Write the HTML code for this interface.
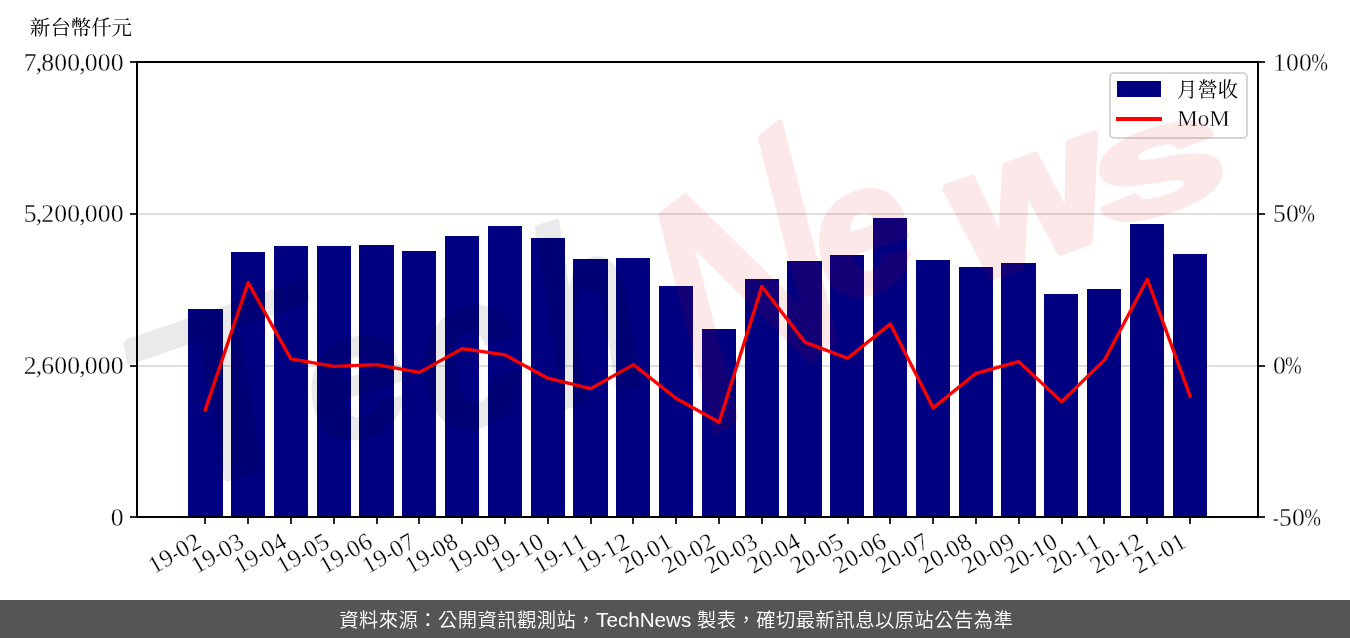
<!DOCTYPE html>
<html lang="zh-Hant">
<head>
<meta charset="utf-8">
<title>月營收 MoM</title>
<style>
html,body{margin:0;padding:0;background:#fff;}
body{width:1350px;height:638px;overflow:hidden;}
svg{display:block;}
.s{font-family:"Liberation Serif", "Noto Serif CJK TC", "Noto Serif CJK SC", serif;font-size:25.7px;fill:#000;stroke:#fff;stroke-width:0.3px;}
.c{font-size:20.4px;font-weight:400;stroke:none;}
.f{font-family:"Liberation Sans", "Noto Sans CJK TC", "Noto Sans CJK SC", sans-serif;font-size:19.3px;letter-spacing:0.48px;fill:#fff;font-weight:350;}
</style>
</head>
<body>
<svg width="1350" height="638" viewBox="0 0 1350 638">
<rect x="0" y="0" width="1350" height="638" fill="#fff"/>
<g stroke="#d3d3d3" stroke-width="1.7">
<line x1="137" y1="366.00" x2="1258" y2="366.00"/>
<line x1="137" y1="214.00" x2="1258" y2="214.00"/>
</g>
<g fill="#000080" shape-rendering="crispEdges">
<rect x="188" y="309" width="35" height="208"/>
<rect x="231" y="252" width="34" height="265"/>
<rect x="274" y="246" width="34" height="271"/>
<rect x="317" y="246" width="34" height="271"/>
<rect x="359" y="245" width="35" height="272"/>
<rect x="402" y="251" width="34" height="266"/>
<rect x="445" y="236" width="34" height="281"/>
<rect x="488" y="226" width="34" height="291"/>
<rect x="531" y="238" width="34" height="279"/>
<rect x="573" y="259" width="35" height="258"/>
<rect x="616" y="258" width="34" height="259"/>
<rect x="659" y="286" width="34" height="231"/>
<rect x="702" y="329" width="34" height="188"/>
<rect x="745" y="279" width="34" height="238"/>
<rect x="787" y="261" width="35" height="256"/>
<rect x="830" y="255" width="34" height="262"/>
<rect x="873" y="218" width="34" height="299"/>
<rect x="916" y="260" width="34" height="257"/>
<rect x="959" y="267" width="34" height="250"/>
<rect x="1001" y="263" width="35" height="254"/>
<rect x="1044" y="294" width="34" height="223"/>
<rect x="1087" y="289" width="34" height="228"/>
<rect x="1130" y="224" width="34" height="293"/>
<rect x="1173" y="254" width="34" height="263"/>
</g>
<polyline points="205.3,409.8 248.1,282.6 290.9,358.9 333.7,366.3 376.5,364.6 419.4,372.4 462.2,348.6 505.0,354.9 547.8,378.2 590.6,388.6 633.5,364.6 676.3,398.5 719.1,422.2 761.9,286.4 804.7,342.1 847.6,358.2 890.4,323.9 933.2,407.9 976.0,373.3 1018.8,361.6 1061.7,401.6 1104.5,359.9 1147.3,279.3 1190.1,396.1" fill="none" stroke="#ff0000" stroke-width="3.3" stroke-linejoin="round" stroke-linecap="square"/>
<g stroke="#000" stroke-width="1.7">
<line x1="205.0" y1="517" x2="205.0" y2="524"/>
<line x1="248.0" y1="517" x2="248.0" y2="524"/>
<line x1="291.0" y1="517" x2="291.0" y2="524"/>
<line x1="334.0" y1="517" x2="334.0" y2="524"/>
<line x1="377.0" y1="517" x2="377.0" y2="524"/>
<line x1="419.0" y1="517" x2="419.0" y2="524"/>
<line x1="462.0" y1="517" x2="462.0" y2="524"/>
<line x1="505.0" y1="517" x2="505.0" y2="524"/>
<line x1="548.0" y1="517" x2="548.0" y2="524"/>
<line x1="591.0" y1="517" x2="591.0" y2="524"/>
<line x1="633.0" y1="517" x2="633.0" y2="524"/>
<line x1="676.0" y1="517" x2="676.0" y2="524"/>
<line x1="719.0" y1="517" x2="719.0" y2="524"/>
<line x1="762.0" y1="517" x2="762.0" y2="524"/>
<line x1="805.0" y1="517" x2="805.0" y2="524"/>
<line x1="848.0" y1="517" x2="848.0" y2="524"/>
<line x1="890.0" y1="517" x2="890.0" y2="524"/>
<line x1="933.0" y1="517" x2="933.0" y2="524"/>
<line x1="976.0" y1="517" x2="976.0" y2="524"/>
<line x1="1019.0" y1="517" x2="1019.0" y2="524"/>
<line x1="1062.0" y1="517" x2="1062.0" y2="524"/>
<line x1="1104.0" y1="517" x2="1104.0" y2="524"/>
<line x1="1147.0" y1="517" x2="1147.0" y2="524"/>
<line x1="1190.0" y1="517" x2="1190.0" y2="524"/>
<line x1="130" y1="62.0" x2="137" y2="62.0"/>
<line x1="1258" y1="62.0" x2="1265" y2="62.0"/>
<line x1="130" y1="214.0" x2="137" y2="214.0"/>
<line x1="1258" y1="214.0" x2="1265" y2="214.0"/>
<line x1="130" y1="366.0" x2="137" y2="366.0"/>
<line x1="1258" y1="366.0" x2="1265" y2="366.0"/>
<line x1="130" y1="517.0" x2="137" y2="517.0"/>
<line x1="1258" y1="517.0" x2="1265" y2="517.0"/>
</g>
<rect x="137" y="62" width="1121" height="455" fill="none" stroke="#000" stroke-width="2"/>
<text class="s" y="70.60"><tspan x="23.85 35.76 41.25 54.30 67.35 79.26 84.75 97.80 110.85">7,800,000</tspan></text>
<text class="s" y="222.27"><tspan x="23.85 35.76 41.25 54.30 67.35 79.26 84.75 97.80 110.85">5,200,000</tspan></text>
<text class="s" y="373.93"><tspan x="23.85 35.76 41.25 54.30 67.35 79.26 84.75 97.80 110.85">2,600,000</tspan></text>
<text class="s" y="525.60"><tspan x="110.85">0</tspan></text>
<text class="s" y="70.60"><tspan x="1273.00 1286.05 1299.10">100</tspan><tspan x="1311.20" textLength="16.70" lengthAdjust="spacingAndGlyphs">%</tspan></text>
<text class="s" y="222.27"><tspan x="1273.00 1286.05">50</tspan><tspan x="1298.15" textLength="16.70" lengthAdjust="spacingAndGlyphs">%</tspan></text>
<text class="s" y="373.93"><tspan x="1273.00">0</tspan><tspan x="1285.10" textLength="16.70" lengthAdjust="spacingAndGlyphs">%</tspan></text>
<text class="s" y="525.60"><tspan x="1273.12" textLength="5.56" lengthAdjust="spacingAndGlyphs">-</tspan><tspan x="1279.00 1292.05">50</tspan><tspan x="1304.15" textLength="16.70" lengthAdjust="spacingAndGlyphs">%</tspan></text>
<text class="s" style="font-size:24.4px" transform="translate(203.0,546.0) rotate(-30)" y="0.00"><tspan x="-56.73 -43.98">19</tspan><tspan x="-31.14" textLength="5.28" lengthAdjust="spacingAndGlyphs">-</tspan><tspan x="-25.23 -12.48">02</tspan></text>
<text class="s" style="font-size:24.4px" transform="translate(245.8,546.0) rotate(-30)" y="0.00"><tspan x="-56.73 -43.98">19</tspan><tspan x="-31.14" textLength="5.28" lengthAdjust="spacingAndGlyphs">-</tspan><tspan x="-25.23 -12.48">03</tspan></text>
<text class="s" style="font-size:24.4px" transform="translate(288.6,546.0) rotate(-30)" y="0.00"><tspan x="-56.73 -43.98">19</tspan><tspan x="-31.14" textLength="5.28" lengthAdjust="spacingAndGlyphs">-</tspan><tspan x="-25.23 -12.48">04</tspan></text>
<text class="s" style="font-size:24.4px" transform="translate(331.4,546.0) rotate(-30)" y="0.00"><tspan x="-56.73 -43.98">19</tspan><tspan x="-31.14" textLength="5.28" lengthAdjust="spacingAndGlyphs">-</tspan><tspan x="-25.23 -12.48">05</tspan></text>
<text class="s" style="font-size:24.4px" transform="translate(374.2,546.0) rotate(-30)" y="0.00"><tspan x="-56.73 -43.98">19</tspan><tspan x="-31.14" textLength="5.28" lengthAdjust="spacingAndGlyphs">-</tspan><tspan x="-25.23 -12.48">06</tspan></text>
<text class="s" style="font-size:24.4px" transform="translate(417.1,546.0) rotate(-30)" y="0.00"><tspan x="-56.73 -43.98">19</tspan><tspan x="-31.14" textLength="5.28" lengthAdjust="spacingAndGlyphs">-</tspan><tspan x="-25.23 -12.48">07</tspan></text>
<text class="s" style="font-size:24.4px" transform="translate(459.9,546.0) rotate(-30)" y="0.00"><tspan x="-56.73 -43.98">19</tspan><tspan x="-31.14" textLength="5.28" lengthAdjust="spacingAndGlyphs">-</tspan><tspan x="-25.23 -12.48">08</tspan></text>
<text class="s" style="font-size:24.4px" transform="translate(502.7,546.0) rotate(-30)" y="0.00"><tspan x="-56.73 -43.98">19</tspan><tspan x="-31.14" textLength="5.28" lengthAdjust="spacingAndGlyphs">-</tspan><tspan x="-25.23 -12.48">09</tspan></text>
<text class="s" style="font-size:24.4px" transform="translate(545.5,546.0) rotate(-30)" y="0.00"><tspan x="-56.73 -43.98">19</tspan><tspan x="-31.14" textLength="5.28" lengthAdjust="spacingAndGlyphs">-</tspan><tspan x="-25.23 -12.48">10</tspan></text>
<text class="s" style="font-size:24.4px" transform="translate(588.3,546.0) rotate(-30)" y="0.00"><tspan x="-56.73 -43.98">19</tspan><tspan x="-31.14" textLength="5.28" lengthAdjust="spacingAndGlyphs">-</tspan><tspan x="-25.23 -12.48">11</tspan></text>
<text class="s" style="font-size:24.4px" transform="translate(631.2,546.0) rotate(-30)" y="0.00"><tspan x="-56.73 -43.98">19</tspan><tspan x="-31.14" textLength="5.28" lengthAdjust="spacingAndGlyphs">-</tspan><tspan x="-25.23 -12.48">12</tspan></text>
<text class="s" style="font-size:24.4px" transform="translate(674.0,546.0) rotate(-30)" y="0.00"><tspan x="-56.73 -43.98">20</tspan><tspan x="-31.14" textLength="5.28" lengthAdjust="spacingAndGlyphs">-</tspan><tspan x="-25.23 -12.48">01</tspan></text>
<text class="s" style="font-size:24.4px" transform="translate(716.8,546.0) rotate(-30)" y="0.00"><tspan x="-56.73 -43.98">20</tspan><tspan x="-31.14" textLength="5.28" lengthAdjust="spacingAndGlyphs">-</tspan><tspan x="-25.23 -12.48">02</tspan></text>
<text class="s" style="font-size:24.4px" transform="translate(759.6,546.0) rotate(-30)" y="0.00"><tspan x="-56.73 -43.98">20</tspan><tspan x="-31.14" textLength="5.28" lengthAdjust="spacingAndGlyphs">-</tspan><tspan x="-25.23 -12.48">03</tspan></text>
<text class="s" style="font-size:24.4px" transform="translate(802.4,546.0) rotate(-30)" y="0.00"><tspan x="-56.73 -43.98">20</tspan><tspan x="-31.14" textLength="5.28" lengthAdjust="spacingAndGlyphs">-</tspan><tspan x="-25.23 -12.48">04</tspan></text>
<text class="s" style="font-size:24.4px" transform="translate(845.3,546.0) rotate(-30)" y="0.00"><tspan x="-56.73 -43.98">20</tspan><tspan x="-31.14" textLength="5.28" lengthAdjust="spacingAndGlyphs">-</tspan><tspan x="-25.23 -12.48">05</tspan></text>
<text class="s" style="font-size:24.4px" transform="translate(888.1,546.0) rotate(-30)" y="0.00"><tspan x="-56.73 -43.98">20</tspan><tspan x="-31.14" textLength="5.28" lengthAdjust="spacingAndGlyphs">-</tspan><tspan x="-25.23 -12.48">06</tspan></text>
<text class="s" style="font-size:24.4px" transform="translate(930.9,546.0) rotate(-30)" y="0.00"><tspan x="-56.73 -43.98">20</tspan><tspan x="-31.14" textLength="5.28" lengthAdjust="spacingAndGlyphs">-</tspan><tspan x="-25.23 -12.48">07</tspan></text>
<text class="s" style="font-size:24.4px" transform="translate(973.7,546.0) rotate(-30)" y="0.00"><tspan x="-56.73 -43.98">20</tspan><tspan x="-31.14" textLength="5.28" lengthAdjust="spacingAndGlyphs">-</tspan><tspan x="-25.23 -12.48">08</tspan></text>
<text class="s" style="font-size:24.4px" transform="translate(1016.5,546.0) rotate(-30)" y="0.00"><tspan x="-56.73 -43.98">20</tspan><tspan x="-31.14" textLength="5.28" lengthAdjust="spacingAndGlyphs">-</tspan><tspan x="-25.23 -12.48">09</tspan></text>
<text class="s" style="font-size:24.4px" transform="translate(1059.4,546.0) rotate(-30)" y="0.00"><tspan x="-56.73 -43.98">20</tspan><tspan x="-31.14" textLength="5.28" lengthAdjust="spacingAndGlyphs">-</tspan><tspan x="-25.23 -12.48">10</tspan></text>
<text class="s" style="font-size:24.4px" transform="translate(1102.2,546.0) rotate(-30)" y="0.00"><tspan x="-56.73 -43.98">20</tspan><tspan x="-31.14" textLength="5.28" lengthAdjust="spacingAndGlyphs">-</tspan><tspan x="-25.23 -12.48">11</tspan></text>
<text class="s" style="font-size:24.4px" transform="translate(1145.0,546.0) rotate(-30)" y="0.00"><tspan x="-56.73 -43.98">20</tspan><tspan x="-31.14" textLength="5.28" lengthAdjust="spacingAndGlyphs">-</tspan><tspan x="-25.23 -12.48">12</tspan></text>
<text class="s" style="font-size:24.4px" transform="translate(1187.8,546.0) rotate(-30)" y="0.00"><tspan x="-56.73 -43.98">21</tspan><tspan x="-31.14" textLength="5.28" lengthAdjust="spacingAndGlyphs">-</tspan><tspan x="-25.23 -12.48">01</tspan></text>
<text class="s c" x="30" y="35">新台幣仟元</text>
<rect x="1110" y="73" width="137" height="65" rx="4" ry="4" fill="#fff" fill-opacity="0.8" stroke="#ccc" stroke-opacity="0.8" stroke-width="2"/>
<rect x="1117" y="81" width="44" height="16" fill="#000080"/>
<line x1="1116" y1="118.9" x2="1162" y2="118.9" stroke="#ff0000" stroke-width="4"/>
<text class="s c" x="1177" y="96.8">月營收</text>
<text class="s" x="1177.2" y="125.9" style="font-size:23px">MoM</text>
<g opacity="0.078" fill="#000000" stroke="#000000" stroke-linejoin="round" font-family='"Liberation Sans", sans-serif' font-size="100px"><text font-weight="normal" transform="translate(150.0,504.5) rotate(-19) skewX(-9) scale(3.235,2.327)" stroke-width="3.24">T</text><text font-weight="bold" transform="translate(315.5,449.0) rotate(-17) skewX(-8) scale(1.841,1.744)" stroke-width="2.79">e</text><text font-weight="bold" transform="translate(430.0,438.5) rotate(-17) skewX(-8) scale(1.858,2.107)" stroke-width="2.52">c</text><text font-weight="bold" transform="translate(554.0,410.5) rotate(-17) skewX(-8) scale(1.618,2.486)" stroke-width="1.95">h</text></g>
<g opacity="0.085" fill="#e60012" stroke="#e60012" stroke-linejoin="round" font-family='"Liberation Sans", sans-serif' font-size="100px"><text font-weight="normal" transform="translate(699.5,444.0) skewY(-38) skewX(12) scale(2.099,3.733)" stroke-width="3.09">N</text><text font-weight="bold" transform="translate(825.0,303.5) rotate(-17) skewX(-8) scale(1.736,1.764)" stroke-width="4.57">e</text><text font-weight="bold" transform="translate(968.0,285.0) rotate(-20) skewX(-8) scale(2.000,1.858)" stroke-width="4.67">w</text><text font-weight="bold" transform="translate(1099.5,230.5) rotate(-17) skewX(-8) scale(2.476,1.489)" stroke-width="4.04">s</text></g>
<rect x="0" y="600" width="1350" height="38" fill="#555"/>
<text class="f" x="339.2" y="626.5">資料來源：公開資訊觀測站，<tspan style="font-size:20.65px;font-weight:400;letter-spacing:0">TechNews </tspan>製表，確切最新訊息以原站公告為準</text>
</svg>
</body>
</html>
